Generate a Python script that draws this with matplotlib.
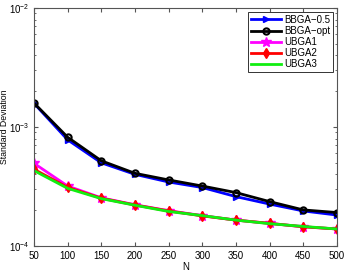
import numpy as np
import matplotlib
matplotlib.use("Agg")
import matplotlib.pyplot as plt

N = [50, 100, 150, 200, 250, 300, 350, 400, 450, 500]
bbga_05 = [1.58e-3, 7.8e-4, 5.0e-4, 4.0e-4, 3.45e-4, 3.1e-4, 2.6e-4, 2.25e-4, 1.97e-4, 1.82e-4]
bbga_opt = [1.59e-3, 8.2e-4, 5.2e-4, 4.08e-4, 3.59e-4, 3.19e-4, 2.81e-4, 2.36e-4, 2.01e-4, 1.91e-4]
ubga1 = [4.95e-4, 3.19e-4, 2.54e-4, 2.22e-4, 1.98e-4, 1.8e-4, 1.65e-4, 1.55e-4, 1.45e-4, 1.39e-4]
ubga2 = [4.41e-4, 3.11e-4, 2.52e-4, 2.21e-4, 1.97e-4, 1.79e-4, 1.65e-4, 1.55e-4, 1.45e-4, 1.39e-4]
ubga3 = [4.3e-4, 3.05e-4, 2.5e-4, 2.2e-4, 1.95e-4, 1.8e-4, 1.65e-4, 1.54e-4, 1.46e-4, 1.39e-4]

plt.rcParams['font.family'] = ['Liberation Sans', 'DejaVu Sans']
plt.rcParams['font.size'] = 7

fig = plt.figure(figsize=(3.46, 2.71), dpi=100)
ax = fig.add_axes([34/346, 1 - 246/271, (337-34)/346, (246-8)/271])

lw = 2
ax.plot(N, bbga_05, color='blue', marker='>', ms=5, lw=lw, label='BBGA\u22120.5')
ax.plot(N, bbga_opt, color='black', marker='o', ms=4.5, mfc='none', mew=1.5, lw=lw, label='BBGA\u2212opt')
ax.plot(N, ubga1, color='magenta', marker='*', ms=7, lw=lw, label='UBGA1')
ax.plot(N, ubga2, color='red', marker='d', ms=5, lw=lw, label='UBGA2')
ax.plot(N, ubga3, color='#11ee11', lw=lw, label='UBGA3')

ax.set_yscale('log')
ax.set_xlim(50, 500)
ax.set_ylim(1e-4, 1e-2)
ax.set_xticks(N)
ax.set_xlabel('N', labelpad=1)
ax.set_ylabel('Standard Deviation', fontsize=6.3, labelpad=0)
ax.yaxis.set_label_coords(-0.083, 0.5)

for s in ax.spines.values():
    s.set_color('#555555')
ax.tick_params(which='both', direction='in', top=True, right=True, colors='#555555', labelcolor='black')
ax.tick_params(which='major', length=3)
ax.tick_params(which='minor', length=1.5)

leg = ax.legend(loc='upper right', fancybox=False, framealpha=1, edgecolor='#333333',
                borderpad=0.3, labelspacing=0.12, handlelength=3.1, handletextpad=0.3,
                borderaxespad=0.4)
leg.get_frame().set_linewidth(0.7)

fig.savefig('out.png', dpi=100)
